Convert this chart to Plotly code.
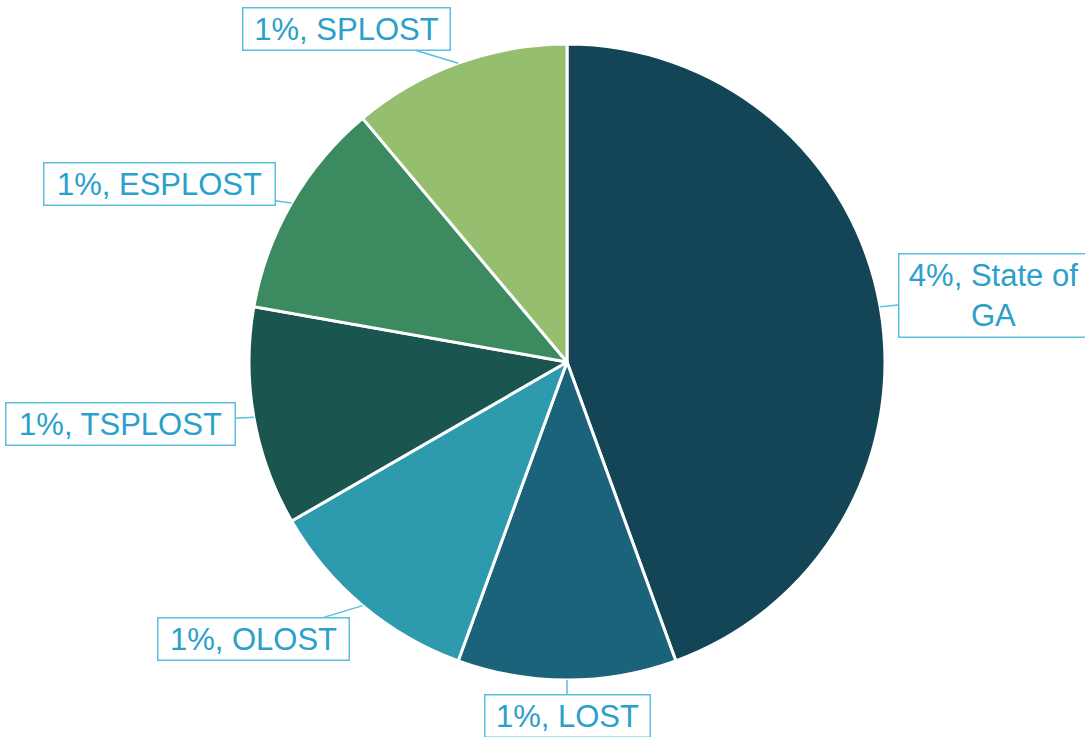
import math
import plotly.graph_objects as go

labels = ["State of GA", "LOST", "OLOST", "TSPLOST", "ESPLOST", "SPLOST"]
values = [4, 1, 1, 1, 1, 1]
colors = ["#134556", "#1a637b", "#2e9aad", "#1a5550", "#3c8a60", "#95bf6e"]
label_text = ["4%, State of<br>GA", "1%, LOST", "1%, OLOST", "1%, TSPLOST", "1%, ESPLOST", "1%, SPLOST"]

W, H = 1085, 737
CX, CY, R = 567, 362, 318
# label box centre offsets (pixels) relative to slice-edge tip, and box sizes
box_offsets = [(113, -11), (0, 36), (-109, 33), (-133, 7), (-132, -19), (-112, -34)]
box_sizes = [(184, 78), (160, 37), (186, 37), (224, 37), (226, 37), (202, 37)]

fig = go.Figure(go.Pie(
    labels=labels, values=values, sort=False, direction="clockwise", rotation=0,
    marker=dict(colors=colors, line=dict(color="white", width=3)),
    textinfo="none", hoverinfo="label+value", showlegend=False,
    domain=dict(x=[(CX - R) / W, (CX + R) / W], y=[1 - (CY + R) / H, 1 - (CY - R) / H]),
))

total = sum(values)
cum = 0
annotations = []
for i, v in enumerate(values):
    mid = (cum + v / 2) / total * 2 * math.pi
    cum += v
    tx = CX + R * math.sin(mid)
    ty = CY - R * math.cos(mid)
    ox, oy = box_offsets[i]
    bw, bh = box_sizes[i]
    annotations.append(dict(
        x=tx / W, y=1 - ty / H, xref="paper", yref="paper",
        ax=ox, ay=oy, axref="pixel", ayref="pixel",
        text=label_text[i], showarrow=True, arrowhead=0, arrowwidth=1.5,
        arrowcolor="#5bbfe0", bordercolor="#5bbfe0", borderwidth=1.5,
        borderpad=2, bgcolor="white", width=bw, height=bh,
        font=dict(family="Liberation Sans, Arial", size=31, color="#2ba0ca"),
        align="center", standoff=0,
    ))

fig.update_layout(
    width=W, height=H, margin=dict(l=0, r=0, t=0, b=0),
    paper_bgcolor="white", plot_bgcolor="white",
    annotations=annotations,
)
fig.write_html("out.html", config={"displayModeBar": False},
               post_script="document.body.style.margin='0';document.body.style.overflow='hidden';")
